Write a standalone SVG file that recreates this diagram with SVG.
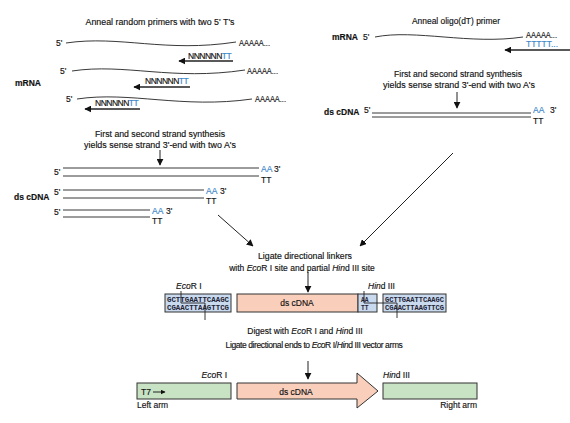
<svg xmlns="http://www.w3.org/2000/svg" width="570" height="423" viewBox="0 0 570 423">
<defs>
<marker id="ah" viewBox="0 0 10 10" refX="9" refY="5" markerWidth="7" markerHeight="7" markerUnits="userSpaceOnUse" orient="auto"><path d="M0,0 L10,5 L0,10 z" fill="#111"/></marker>
<marker id="ahs" viewBox="0 0 10 10" refX="9" refY="5" markerWidth="5" markerHeight="5" markerUnits="userSpaceOnUse" orient="auto"><path d="M0,0 L10,5 L0,10 z" fill="#111"/></marker>
<style>
text{font-family:"Liberation Sans",Arial,sans-serif;font-size:8.5px;fill:#111;stroke:#111;stroke-width:0.15}
.b{font-weight:bold}
.c{text-anchor:middle}
.e{text-anchor:end}
.blue{fill:#3a86c8;stroke:#3a86c8}
.i{font-style:italic}
.wave{fill:none;stroke:#222;stroke-width:0.9}
.ln{stroke:#222;stroke-width:0.9;fill:none}
.pr{stroke:#222;stroke-width:1.3;fill:none}
.arr{stroke:#222;stroke-width:1;fill:none}
.seq{font-family:"Liberation Mono",monospace;font-size:6.3px;font-weight:bold;fill:#223;stroke:none}
.box{stroke:#333;stroke-width:1}
.n{letter-spacing:-0.5px}
</style>
</defs>

<g id="random-primers">
<text x="160" y="25" class="c" textLength="149" lengthAdjust="spacingAndGlyphs">Anneal random primers with two 5' T's</text>
<text x="15" y="86" class="b">mRNA</text>
<text x="56" y="46">5'</text>
<path class="wave" d="M66,43 C120,35 165,53 236,42"/>
<text x="239" y="46" textLength="31" lengthAdjust="spacingAndGlyphs">AAAAA...</text>
<text x="188" y="59" class="n">NNNNNN<tspan class="blue">TT</tspan></text>
<line class="pr" x1="233" y1="61" x2="179" y2="61" marker-end="url(#ah)"/>
<text x="60" y="74">5'</text>
<path class="wave" d="M72,71 C125,63 172,81 245,70"/>
<text x="247" y="74" textLength="31" lengthAdjust="spacingAndGlyphs">AAAAA...</text>
<text x="145" y="84" class="n">NNNNNN<tspan class="blue">TT</tspan></text>
<line class="pr" x1="190" y1="87" x2="134" y2="87" marker-end="url(#ah)"/>
<text x="66" y="102">5'</text>
<path class="wave" d="M77,99 C130,91 182,109 252,99"/>
<text x="255" y="102" textLength="31" lengthAdjust="spacingAndGlyphs">AAAAA...</text>
<text x="95" y="106" class="n">NNNNNN<tspan class="blue">TT</tspan></text>
<line class="pr" x1="140" y1="109" x2="85" y2="109" marker-end="url(#ah)"/>
</g>

<g id="left-dscdna">
<text x="160" y="137" class="c" textLength="130" lengthAdjust="spacingAndGlyphs">First and second strand synthesis</text>
<text x="160" y="148" class="c" textLength="152" lengthAdjust="spacingAndGlyphs">yields sense strand 3'-end with two A's</text>
<text x="14" y="200" class="b">ds cDNA</text>
<text x="54" y="175">5'</text>
<line class="ln" x1="63" y1="168" x2="259" y2="168"/>
<line class="ln" x1="63" y1="176" x2="259" y2="176"/>
<text x="261" y="172" class="blue">AA</text><text x="274" y="172">3'</text>
<text x="261" y="183">TT</text>
<text x="54" y="195">5'</text>
<line class="ln" x1="63" y1="190" x2="204" y2="190"/>
<line class="ln" x1="63" y1="198" x2="204" y2="198"/>
<text x="206" y="194" class="blue">AA</text><text x="220" y="194">3'</text>
<text x="206" y="204">TT</text>
<text x="54" y="215">5'</text>
<line class="ln" x1="63" y1="210" x2="150" y2="210"/>
<line class="ln" x1="63" y1="217" x2="150" y2="217"/>
<text x="152" y="214" class="blue">AA</text><text x="166" y="214">3'</text>
<text x="152" y="224">TT</text>
</g>

<g id="oligo-dt">
<text x="456" y="24" class="c" textLength="88" lengthAdjust="spacingAndGlyphs">Anneal oligo(dT) primer</text>
<text x="332" y="40" class="b">mRNA</text>
<text x="363" y="40">5'</text>
<path class="wave" d="M375,37 C415,29 470,45 523,37"/>
<text x="526" y="38" textLength="31" lengthAdjust="spacingAndGlyphs">AAAAA...</text>
<text x="526" y="47" class="blue" textLength="32" lengthAdjust="spacingAndGlyphs">TTTTT...</text>
<line class="pr" x1="570" y1="50" x2="505" y2="50" marker-end="url(#ah)"/>
</g>

<g id="right-dscdna">
<text x="458" y="77" class="c" textLength="128" lengthAdjust="spacingAndGlyphs">First and second strand synthesis</text>
<text x="459" y="88" class="c" textLength="152" lengthAdjust="spacingAndGlyphs">yields sense strand 3'-end with two A's</text>
<text x="324" y="115" class="b">ds cDNA</text>
<text x="364" y="113">5'</text>
<line class="ln" x1="372" y1="113" x2="531" y2="113"/>
<line class="ln" x1="372" y1="117" x2="531" y2="117"/>
<text x="533" y="113" class="blue">AA</text><text x="550" y="113">3'</text>
<text x="533" y="124">TT</text>
</g>

<g id="ligate-linkers">
<text x="305" y="259" class="c" textLength="94" lengthAdjust="spacingAndGlyphs">Ligate directional linkers</text>
<text x="302" y="271" class="c" letter-spacing="0">with <tspan class="i">Eco</tspan>R I site and partial <tspan class="i">Hin</tspan>d III site</text>
<text x="176" y="289"><tspan class="i">Eco</tspan>R I</text>
<text x="368" y="289"><tspan class="i">Hin</tspan>d III</text>
<rect class="box" x="165" y="294" width="66" height="18" fill="#c9d9ee"/>
<text x="167" y="302" class="seq" textLength="62" lengthAdjust="spacingAndGlyphs">GCTTGAATTCAAGC</text>
<text x="167" y="310" class="seq" textLength="62" lengthAdjust="spacingAndGlyphs">CGAACTTAAGTTCG</text>
<rect class="box" x="237" y="294" width="121" height="18" fill="#f9cfbc"/>
<text x="297" y="306" class="c">ds cDNA</text>
<rect class="box" x="358" y="294" width="19" height="18" fill="#c9d9ee"/>
<text x="361" y="302" class="seq">AA</text>
<text x="361" y="310" class="seq">TT</text>
<rect class="box" x="383" y="294" width="63" height="18" fill="#c9d9ee"/>
<text x="385" y="302" class="seq" textLength="59" lengthAdjust="spacingAndGlyphs">GCTTGAATTCAAGC</text>
<text x="385" y="310" class="seq" textLength="59" lengthAdjust="spacingAndGlyphs">CGAACTTAAGTTCG</text>
<path class="ln" d="M181,291 V303 H205 V320"/>
<path class="ln" d="M364,291 V303 H397 V318"/>
</g>

<g id="digest">
<text x="305" y="334" class="c">Digest with <tspan class="i">Eco</tspan>R I and <tspan class="i">Hin</tspan>d III</text>
<text x="314" y="348" class="c" letter-spacing="-0.4">Ligate directional ends to <tspan class="i">Eco</tspan>R I/<tspan class="i">Hin</tspan>d III vector arms</text>
</g>

<g id="left-arm">
<rect class="box" x="137" y="383" width="94" height="16" fill="#c8e2c4"/>
<text x="141" y="395">T7</text>
<line x1="153" y1="392" x2="165" y2="392" stroke="#111" stroke-width="0.9" marker-end="url(#ahs)"/>
<text x="227" y="378" class="e"><tspan class="i">Eco</tspan>R I</text>
<text x="137" y="408">Left arm</text>
</g>

<g id="cdna-insert">
<path class="box" d="M237,383 H357 V373 L378,391 L357,408 V399 H237 Z" fill="#f9cfbc"/>
<text x="296" y="395" class="c">ds cDNA</text>
</g>

<g id="right-arm">
<rect class="box" x="383" y="383" width="94" height="16" fill="#c8e2c4"/>
<text x="383" y="378"><tspan class="i">Hin</tspan>d III</text>
<text x="477" y="408" class="e">Right arm</text>
</g>

<g id="connectors">
<line class="arr" x1="160" y1="150" x2="160" y2="165" marker-end="url(#ah)"/>
<line class="arr" x1="457" y1="92" x2="457" y2="108" marker-end="url(#ah)"/>
<line class="arr" x1="218" y1="215" x2="253" y2="246" marker-end="url(#ah)"/>
<line class="arr" x1="453" y1="153" x2="360" y2="246" marker-end="url(#ah)"/>
<line class="arr" x1="308" y1="272" x2="308" y2="292" marker-end="url(#ah)"/>
<line class="arr" x1="308" y1="361" x2="308" y2="379" marker-end="url(#ah)"/>
</g>
</svg>
